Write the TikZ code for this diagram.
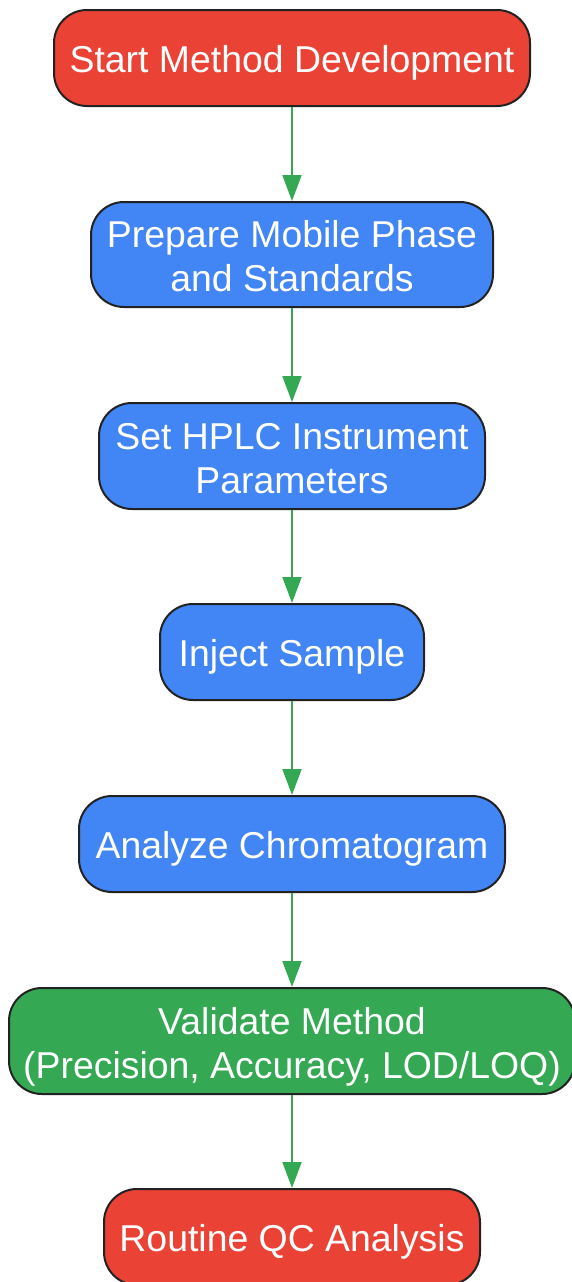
\documentclass[tikz,border=0pt]{standalone}
\usepackage{fontspec}
\setmainfont{Liberation Sans}
\usetikzlibrary{arrows.meta}
\definecolor{gred}{HTML}{EA4335}
\definecolor{gblue}{HTML}{4285F4}
\definecolor{ggreen}{HTML}{34A853}
\definecolor{edge}{HTML}{222222}
\tikzset{
  box/.style={draw=edge, line width=2pt, rounded corners=33pt, text=white, align=center,
    inner sep=0pt, font=\fontsize{37.4}{44}\selectfont},
  oneline/.style={text height=30pt, text depth=2pt},
  twoline/.style={text height=76pt, text depth=1.6pt},
  redbox/.style={box, fill=gred},
  bluebox/.style={box, fill=gblue},
  greenbox/.style={box, fill=ggreen},
  conn/.style={draw=ggreen, line width=2pt, -{Triangle[width=19pt,length=26pt]}}
}
\begin{document}
\begin{tikzpicture}[x=1pt,y=-1pt]
\useasboundingbox (0,0) rectangle (572,1282);
\node[redbox, oneline, minimum width=476pt, minimum height=96pt] (n1) at (292,58) {Start Method Development};
\node[bluebox, twoline, minimum width=402pt, minimum height=105pt] (n2) at (292,254.5) {Prepare Mobile Phase\\and Standards};
\node[bluebox, twoline, minimum width=386pt, minimum height=106pt] (n3) at (292,456) {Set HPLC Instrument\\Parameters};
\node[bluebox, oneline, minimum width=264pt, minimum height=96pt] (n4) at (292,652) {Inject Sample};
\node[bluebox, oneline, minimum width=426pt, minimum height=96pt] (n5) at (292,844) {Analyze Chromatogram};
\node[greenbox, twoline, minimum width=566pt, minimum height=106pt] (n6) at (292,1041) {Validate Method\\(Precision, Accuracy, LOD/LOQ)};
\node[redbox, oneline, minimum width=376pt, minimum height=96pt] (n7) at (292,1237) {Routine QC Analysis};
\draw[conn] (n1.south) -- (n2.north);
\draw[conn] (n2.south) -- (n3.north);
\draw[conn] (n3.south) -- (n4.north);
\draw[conn] (n4.south) -- (n5.north);
\draw[conn] (n5.south) -- (n6.north);
\draw[conn] (n6.south) -- (n7.north);
\end{tikzpicture}
\end{document}
